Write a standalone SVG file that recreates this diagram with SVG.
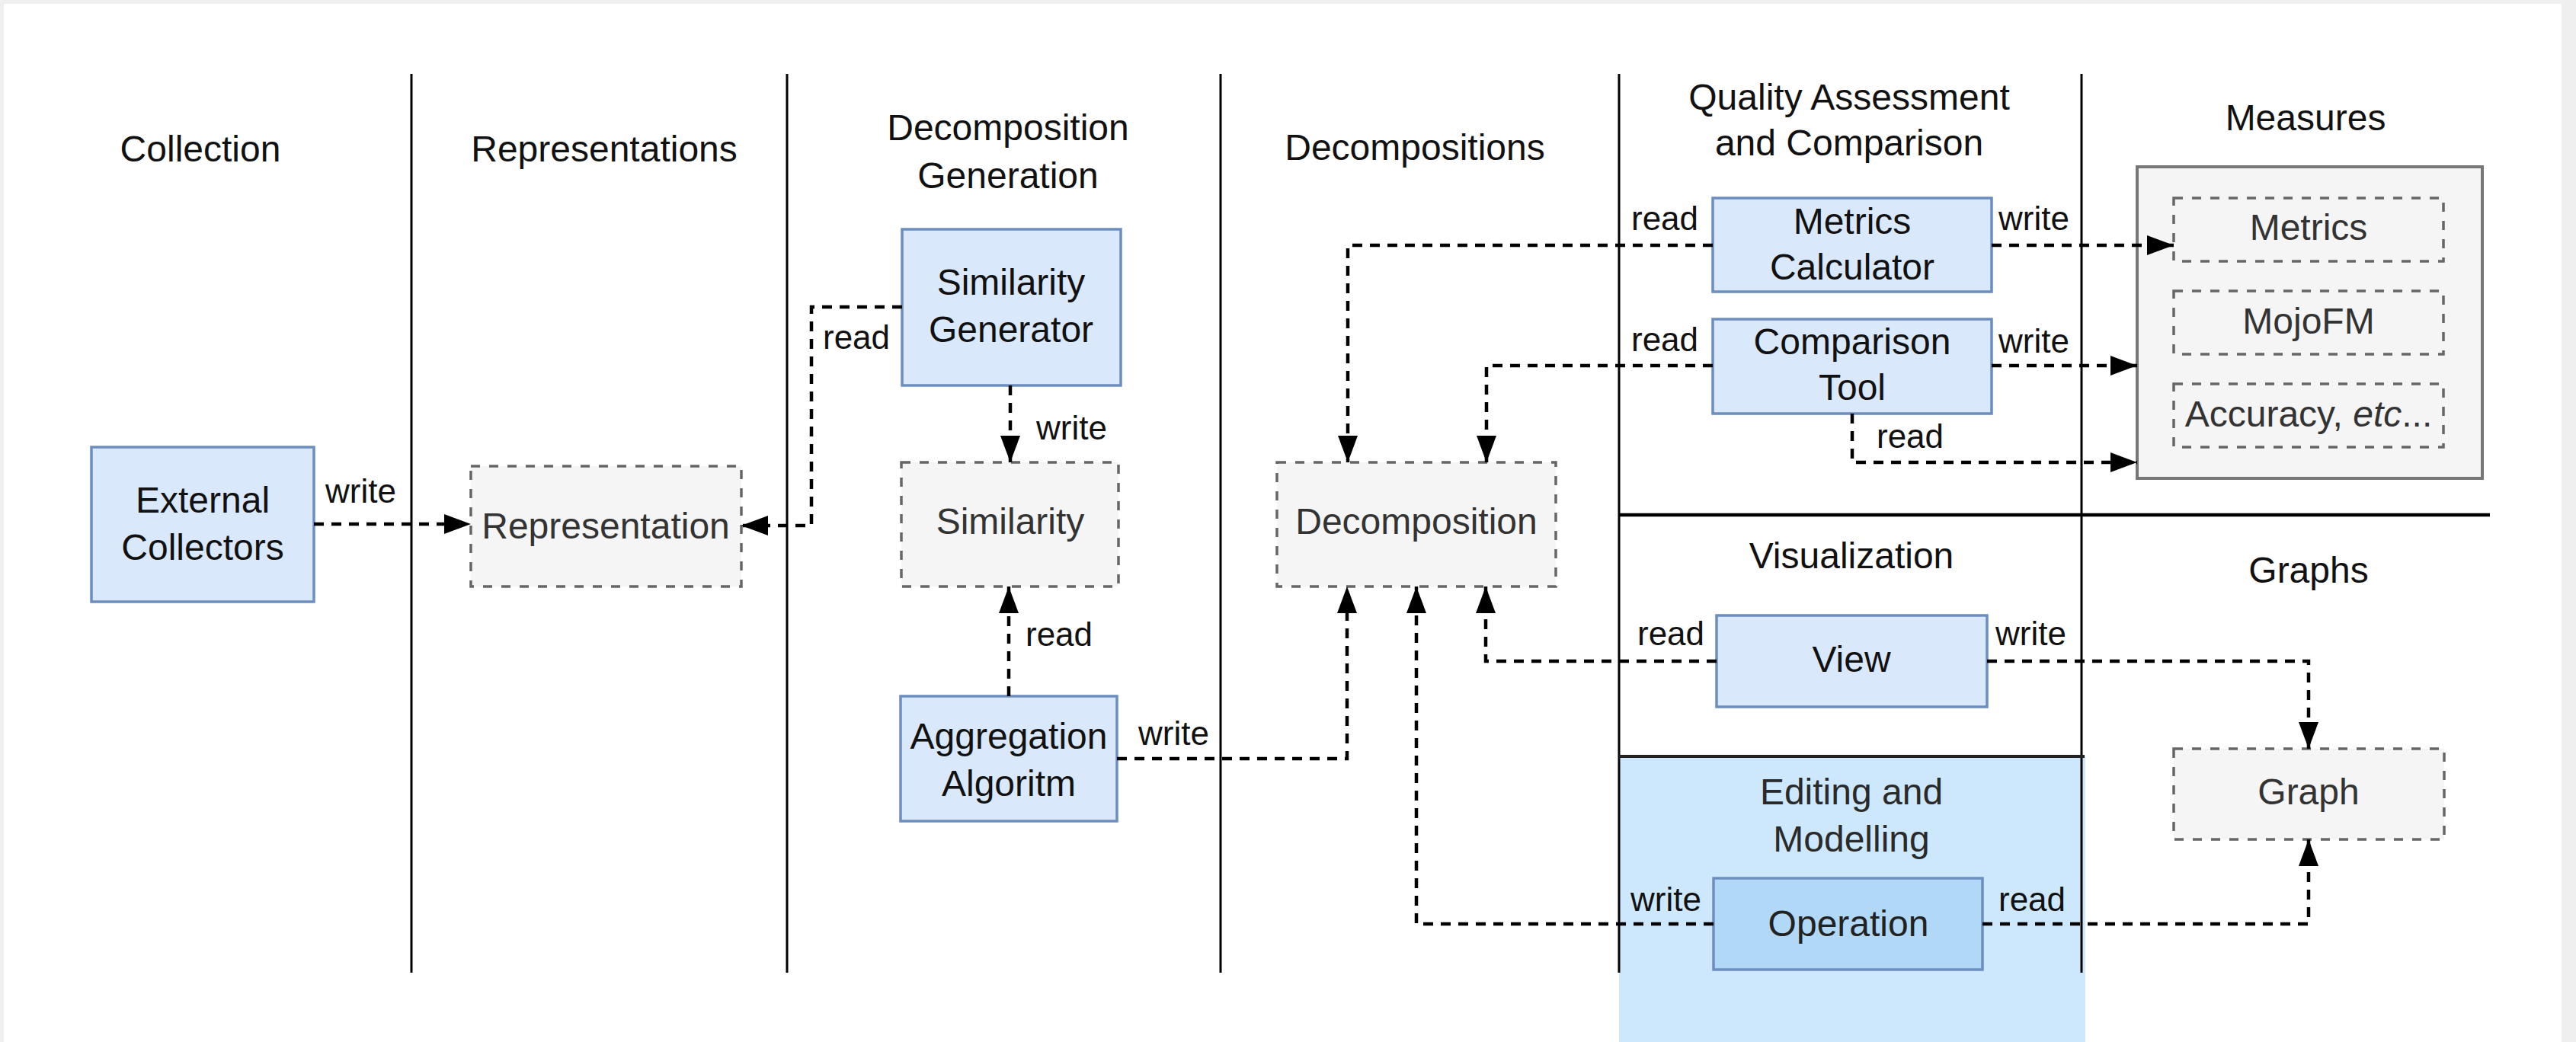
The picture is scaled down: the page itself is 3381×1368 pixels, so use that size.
<svg xmlns="http://www.w3.org/2000/svg" width="3381" height="1368" viewBox="0 0 3381 1368">
<defs>
<marker id="arr" markerUnits="userSpaceOnUse" markerWidth="36" markerHeight="28" refX="35" refY="13" orient="auto">
<path d="M0,0 L35,13 L0,26 z" fill="#000"/>
</marker>
<style>
text{font-family:"Liberation Sans",Arial,sans-serif;}
.hdr{font-size:48px;fill:#111;text-anchor:middle;}
.nt{font-size:48px;fill:#111;text-anchor:middle;}
.gt{font-size:48px;fill:#333;text-anchor:middle;}
.lbl{font-size:44px;fill:#111;}
.blue{fill:#dae8fc;stroke:#6c8ebf;stroke-width:3.5;}
.gray{fill:#f5f5f5;stroke:#666;stroke-width:3.5;stroke-dasharray:12 12;}
.lane{stroke:#000;stroke-width:3;fill:none;}
.conn{fill:none;stroke:#000;stroke-width:4.5;stroke-dasharray:13 10;marker-end:url(#arr);}
</style>
</defs>
<rect x="0" y="0" width="3381" height="1368" fill="#ffffff"/>
<rect x="0" y="0" width="3381" height="5" fill="#efefef"/>
<rect x="0" y="0" width="5" height="1368" fill="#efefef"/>
<rect x="3362" y="0" width="19" height="1368" fill="#efefef"/>

<g id="lanes">
<rect x="2125" y="993" width="612" height="375" fill="#cde8fd"/>
<line class="lane" x1="540" y1="97" x2="540" y2="1277"/>
<line class="lane" x1="1033" y1="97" x2="1033" y2="1277"/>
<line class="lane" x1="1602" y1="97" x2="1602" y2="1277"/>
<line class="lane" x1="2125" y1="97" x2="2125" y2="1277"/>
<line class="lane" x1="2732" y1="97" x2="2732" y2="1277"/>
<line x1="2125" y1="676" x2="3268" y2="676" stroke="#000" stroke-width="4.5"/>
<line x1="2125" y1="993" x2="2736" y2="993" stroke="#222" stroke-width="4"/>
<text class="hdr" x="263" y="212">Collection</text>
<text class="hdr" x="793" y="212">Representations</text>
<text class="hdr" x="1323" y="184">Decomposition</text>
<text class="hdr" x="1323" y="247">Generation</text>
<text class="hdr" x="1857" y="210">Decompositions</text>
<text class="hdr" x="2427" y="144">Quality Assessment</text>
<text class="hdr" x="2427" y="204">and Comparison</text>
<text class="hdr" x="3026" y="171">Measures</text>
<text class="hdr" x="2430" y="746">Visualization</text>
<text class="hdr" x="3030" y="765">Graphs</text>
<text class="hdr" x="2430" y="1056" style="fill:#2a2a2a">Editing and</text>
<text class="hdr" x="2430" y="1118" style="fill:#2a2a2a">Modelling</text>
</g>

<g id="external-collectors">
<rect class="blue" x="120" y="587" width="292" height="203"/>
<text class="nt" x="266" y="673">External</text>
<text class="nt" x="266" y="735">Collectors</text>
</g>
<g id="representation">
<rect class="gray" x="618" y="612" width="355" height="158"/>
<text class="gt" x="795" y="707">Representation</text>
</g>
<g id="similarity-generator">
<rect class="blue" x="1184" y="301" width="287" height="205"/>
<text class="nt" x="1327" y="387">Similarity</text>
<text class="nt" x="1327" y="449">Generator</text>
</g>
<g id="similarity">
<rect class="gray" x="1183" y="607" width="285" height="163"/>
<text class="gt" x="1326" y="701">Similarity</text>
</g>
<g id="aggregation-algoritm">
<rect class="blue" x="1182" y="914" width="284" height="164"/>
<text class="nt" x="1324" y="983">Aggregation</text>
<text class="nt" x="1324" y="1045">Algoritm</text>
</g>
<g id="decomposition">
<rect class="gray" x="1676" y="607" width="366" height="163"/>
<text class="gt" x="1859" y="701">Decomposition</text>
</g>
<g id="metrics-calculator">
<rect class="blue" x="2248" y="260" width="366" height="123"/>
<text class="nt" x="2431" y="307">Metrics</text>
<text class="nt" x="2431" y="367">Calculator</text>
</g>
<g id="comparison-tool">
<rect class="blue" x="2248" y="419" width="366" height="124"/>
<text class="nt" x="2431" y="465">Comparison</text>
<text class="nt" x="2431" y="525">Tool</text>
</g>
<g id="measures">
<rect x="2805" y="219" width="453" height="409" fill="#f5f5f5" stroke="#777" stroke-width="4"/>
<g id="metrics">
<rect class="gray" x="2853" y="260" width="354" height="83"/>
<text class="gt" x="3030" y="315">Metrics</text>
</g>
<g id="mojofm">
<rect class="gray" x="2853" y="382" width="354" height="83"/>
<text class="gt" x="3030" y="438">MojoFM</text>
</g>
<g id="accuracy">
<rect class="gray" x="2853" y="504" width="354" height="83"/>
<text class="gt" x="3030" y="560">Accuracy, <tspan font-style="italic">etc</tspan>...</text>
</g>
</g>
<g id="view">
<rect class="blue" x="2253" y="808" width="355" height="120"/>
<text class="nt" x="2430" y="882">View</text>
</g>
<g id="graph">
<rect class="gray" x="2853" y="983" width="355" height="119"/>
<text class="gt" x="3030" y="1056">Graph</text>
</g>
<g id="operation">
<rect x="2249" y="1153" width="353" height="120" fill="#b1d9f7" stroke="#6c8ebf" stroke-width="3.5"/>
<text class="nt" x="2426" y="1229" style="fill:#222">Operation</text>
</g>

<g id="connectors">
<path class="conn" d="M412,688 L618,688"/>
<path class="conn" d="M1184,403 L1065,403 L1065,690 L973,690"/>
<path class="conn" d="M1326,506 L1326,607"/>
<path class="conn" d="M1324,914 L1324,770"/>
<path class="conn" d="M1466,996 L1768,996 L1768,770"/>
<path class="conn" d="M2248,322 L1769,322 L1769,607"/>
<path class="conn" d="M2248,480 L1951,480 L1951,607"/>
<path class="conn" d="M2614,322 L2853,322"/>
<path class="conn" d="M2614,480 L2805,480"/>
<path class="conn" d="M2431,543 L2431,607 L2805,607"/>
<path class="conn" d="M2253,868 L1950,868 L1950,770"/>
<path class="conn" d="M2608,868 L3030,868 L3030,983"/>
<path class="conn" d="M2249,1213 L1859,1213 L1859,770"/>
<path class="conn" d="M2602,1213 L3030,1213 L3030,1102"/>
<text class="lbl" x="427" y="660">write</text>
<text class="lbl" x="1080" y="458">read</text>
<text class="lbl" x="1360" y="577">write</text>
<text class="lbl" x="1346" y="848">read</text>
<text class="lbl" x="1494" y="978">write</text>
<text class="lbl" x="2141" y="302">read</text>
<text class="lbl" x="2141" y="461">read</text>
<text class="lbl" x="2623" y="302">write</text>
<text class="lbl" x="2623" y="463">write</text>
<text class="lbl" x="2463" y="588">read</text>
<text class="lbl" x="2149" y="847">read</text>
<text class="lbl" x="2619" y="847">write</text>
<text class="lbl" x="2140" y="1196">write</text>
<text class="lbl" x="2623" y="1196">read</text>
</g>
</svg>
